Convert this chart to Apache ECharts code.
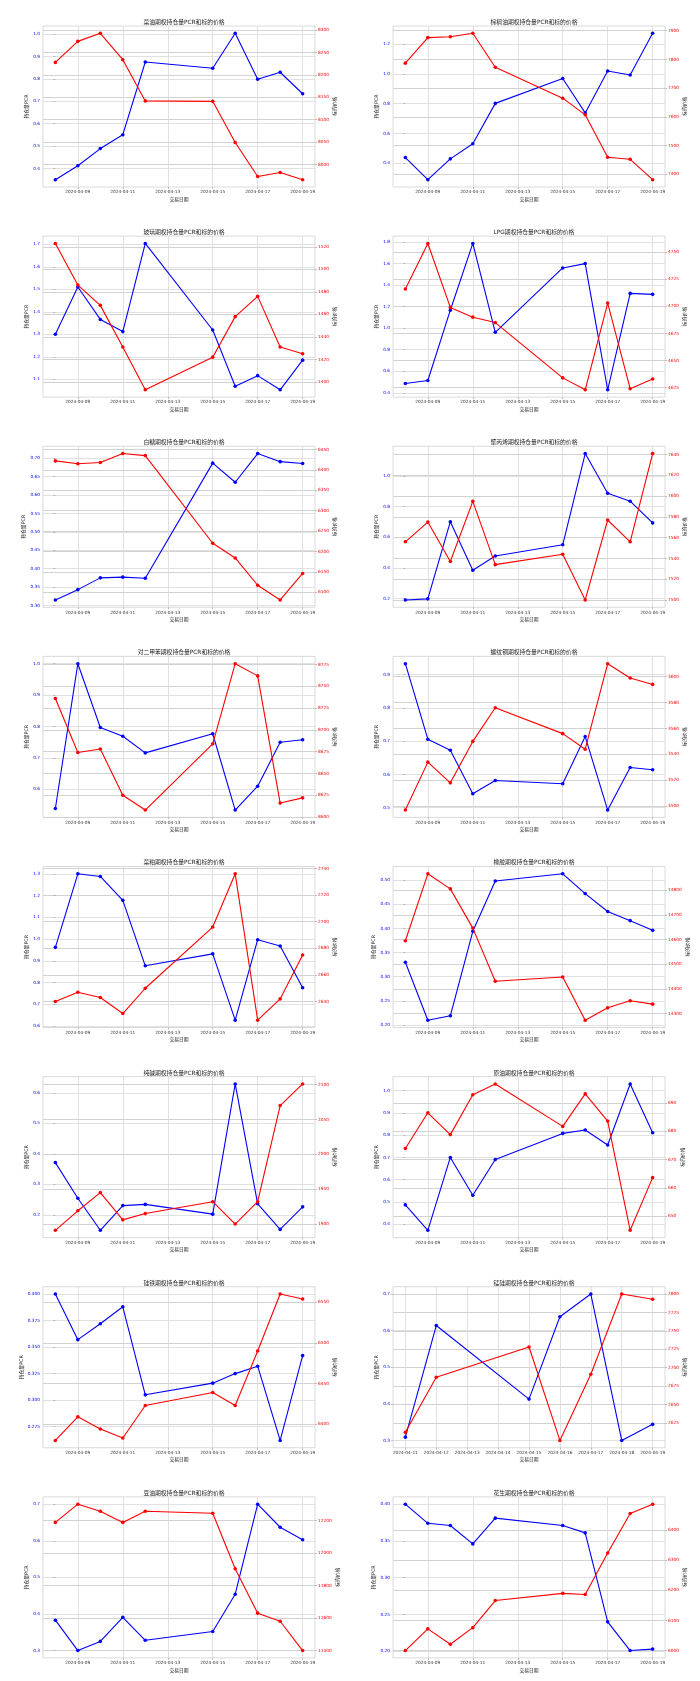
<!DOCTYPE html>
<html><head><meta charset="utf-8">
<script src="https://cdn.jsdelivr.net/npm/echarts@6/dist/echarts.min.js"></script>
<style>html,body{margin:0;padding:0;background:#fff}#c{width:700px;height:1681px}</style>
</head><body><div id="c"></div>
<script>
// ---------- data ----------
const titles = [
  '菜油期权持仓量PCR和标的价格','棕榈油期权持仓量PCR和标的价格',
  '玻璃期权持仓量PCR和标的价格','LPG期权持仓量PCR和标的价格',
  '白糖期权持仓量PCR和标的价格','聚丙烯期权持仓量PCR和标的价格',
  '对二甲苯期权持仓量PCR和标的价格','螺纹钢期权持仓量PCR和标的价格',
  '菜粕期权持仓量PCR和标的价格','橡胶期权持仓量PCR和标的价格',
  '纯碱期权持仓量PCR和标的价格','原油期权持仓量PCR和标的价格',
  '硅铁期权持仓量PCR和标的价格','锰硅期权持仓量PCR和标的价格',
  '豆油期权持仓量PCR和标的价格','花生期权持仓量PCR和标的价格'
];
const dates = ['2024-04-08','2024-04-09','2024-04-10','2024-04-11','2024-04-12','2024-04-15','2024-04-16','2024-04-17','2024-04-18','2024-04-19'];
const dates14 = ['2024-04-11','2024-04-12','2024-04-15','2024-04-16','2024-04-17','2024-04-18','2024-04-19'];
const xTicks = ['2024-04-09','2024-04-11','2024-04-13','2024-04-15','2024-04-17','2024-04-19'];
const xTicks14 = ['2024-04-11','2024-04-12','2024-04-13','2024-04-14','2024-04-15','2024-04-16','2024-04-17','2024-04-18','2024-04-19'];

const pcr1 = [0.350,0.412,0.489,0.551,0.876,0.848,1.004,0.799,0.830,0.734];
const price1 = [8228,8275,8293,8234,8142,8141,8049,7973,7982,7966];
const left1 = ['0.4','0.5','0.6','0.7','0.8','0.9','1.0'];
const right1 = ['8000','8050','8100','8150','8200','8250','8300'];

const pcr2 = [0.438,0.289,0.429,0.531,0.802,0.969,0.738,1.020,0.993,1.273];
const price2 = [7787,7876,7879,7891,7773,7665,7607,7459,7452,7381];
const left2 = ['0.4','0.6','0.8','1.0','1.2'];
const right2 = ['7400','7500','7600','7700','7800','7900'];

const pcr3 = [1.300,1.510,1.366,1.312,1.704,1.319,1.069,1.116,1.053,1.185];
const price3 = [1523,1486,1468,1431,1393,1422,1458,1476,1431,1425];
const left3 = ['1.1','1.2','1.3','1.4','1.5','1.6','1.7'];
const right3 = ['1400','1420','1440','1460','1480','1500','1520'];

const pcr4 = [0.486,0.514,1.166,1.785,0.961,1.558,1.598,0.428,1.322,1.313];
const price4 = [4716,4758,4699,4690,4685,4634,4623,4703,4624,4633];
const left4 = ['0.4','0.6','0.8','1.0','1.2','1.4','1.6','1.8'];
const right4 = ['4625','4650','4675','4700','4725','4750'];

const pcr5 = [0.315,0.343,0.375,0.377,0.374,0.687,0.635,0.713,0.691,0.686];
const price5 = [6422,6415,6418,6440,6435,6220,6184,6117,6081,6146];
const left5 = ['0.30','0.35','0.40','0.45','0.50','0.55','0.60','0.65','0.70'];
const right5 = ['6100','6150','6200','6250','6300','6350','6400','6450'];

const pcr6 = [0.191,0.198,0.702,0.385,0.478,0.551,1.147,0.888,0.836,0.694];
const price6 = [7556,7575,7537,7595,7534,7544,7500,7577,7556,7641];
const left6 = ['0.2','0.4','0.6','0.8','1.0'];
const right6 = ['7500','7520','7540','7560','7580','7600','7620','7640'];

const pcr7 = [0.539,1.000,0.797,0.769,0.716,0.777,0.534,0.610,0.750,0.758];
const price7 = [8736,8674,8678,8625,8608,8684,8776,8762,8616,8622];
const left7 = ['0.6','0.7','0.8','0.9','1.0'];
const right7 = ['8600','8625','8650','8675','8700','8725','8750','8775'];

const pcr8 = [0.933,0.706,0.673,0.542,0.582,0.572,0.714,0.493,0.621,0.614];
const price8 = [3497,3534,3518,3550,3576,3556,3544,3610,3599,3594];
const left8 = ['0.5','0.6','0.7','0.8','0.9'];
const right8 = ['3500','3520','3540','3560','3580','3600'];

const pcr9 = [0.962,1.300,1.288,1.178,0.877,0.932,0.627,0.997,0.968,0.776];
const price9 = [2640,2647,2643,2631,2650,2696,2736,2626,2642,2675];
const left9 = ['0.6','0.7','0.8','0.9','1.0','1.1','1.2','1.3'];
const right9 = ['2640','2660','2680','2700','2720','2740'];

const pcr10 = [0.330,0.210,0.219,0.394,0.498,0.513,0.472,0.435,0.416,0.396];
const price10 = [14595,14866,14805,14646,14431,14448,14273,14323,14352,14338];
const left10 = ['0.20','0.25','0.30','0.35','0.40','0.45','0.50'];
const right10 = ['14300','14400','14500','14600','14700','14800'];

const pcr11 = [0.371,0.254,0.149,0.230,0.234,0.202,0.629,0.236,0.152,0.226];
const price11 = [1891,1919,1945,1906,1915,1932,1900,1932,2070,2101];
const left11 = ['0.2','0.3','0.4','0.5','0.6'];
const right11 = ['1900','1950','2000','2050','2100'];

const pcr12 = [0.487,0.373,0.700,0.530,0.691,0.808,0.823,0.756,1.030,0.811];
const price12 = [673.9,686.5,678.8,692.9,696.7,681.7,693.2,683.6,645.0,663.6];
const left12 = ['0.4','0.5','0.6','0.7','0.8','0.9','1.0'];
const right12 = ['650','660','670','680','690'];

const pcr13 = [0.400,0.357,0.372,0.388,0.305,0.316,0.325,0.332,0.262,0.342];
const price13 = [6380,6409,6394,6383,6423,6439,6423,6490,6560,6554];
const left13 = ['0.275','0.300','0.325','0.350','0.375','0.400'];
const right13 = ['6400','6450','6500','6550'];

const pcr14 = [0.309,0.614,0.413,0.638,0.700,0.300,0.344];
const price14 = [2612,2687,2728,2601,2691,2800,2793];
const left14 = ['0.3','0.4','0.5','0.6','0.7'];
const right14 = ['2625','2650','2675','2700','2725','2750','2775','2800'];

const pcr15 = [0.383,0.300,0.325,0.391,0.328,0.352,0.454,0.700,0.637,0.603];
const price15 = [12188,12300,12257,12188,12257,12244,11903,11630,11580,11400];
const left15 = ['0.3','0.4','0.5','0.6','0.7'];
const right15 = ['11400','11600','11800','12000','12200'];

const pcr16 = [0.400,0.374,0.371,0.346,0.381,0.371,0.361,0.240,0.201,0.203];
const price16 = [6000,6072,6021,6076,6166,6190,6186,6324,6455,6486];
const left16 = ['0.20','0.25','0.30','0.35','0.40'];
const right16 = ['6000','6100','6200','6300','6400'];

const panels = [
  {d:dates,x:xTicks,p:pcr1,v:price1,l:left1,r:right1},
  {d:dates,x:xTicks,p:pcr2,v:price2,l:left2,r:right2},
  {d:dates,x:xTicks,p:pcr3,v:price3,l:left3,r:right3},
  {d:dates,x:xTicks,p:pcr4,v:price4,l:left4,r:right4},
  {d:dates,x:xTicks,p:pcr5,v:price5,l:left5,r:right5},
  {d:dates,x:xTicks,p:pcr6,v:price6,l:left6,r:right6},
  {d:dates,x:xTicks,p:pcr7,v:price7,l:left7,r:right7},
  {d:dates,x:xTicks,p:pcr8,v:price8,l:left8,r:right8},
  {d:dates,x:xTicks,p:pcr9,v:price9,l:left9,r:right9},
  {d:dates,x:xTicks,p:pcr10,v:price10,l:left10,r:right10},
  {d:dates,x:xTicks,p:pcr11,v:price11,l:left11,r:right11},
  {d:dates,x:xTicks,p:pcr12,v:price12,l:left12,r:right12},
  {d:dates,x:xTicks,p:pcr13,v:price13,l:left13,r:right13},
  {d:dates14,x:xTicks14,p:pcr14,v:price14,l:left14,r:right14},
  {d:dates,x:xTicks,p:pcr15,v:price15,l:left15,r:right15},
  {d:dates,x:xTicks,p:pcr16,v:price16,l:left16,r:right16}
];

// ---------- build ----------
const BASE = Date.UTC(2024,3,8);
function dn(s){const a=s.split('-').map(Number);return Math.round((Date.UTC(a[0],a[1]-1,a[2])-BASE)/864e5);}
function ds(n){return new Date(BASE+Math.round(n)*864e5).toISOString().slice(0,10);}
function pad(arr){const mn=Math.min(...arr),mx=Math.max(...arr),s=mx-mn;return [mn-0.05*s,mx+0.05*s];}
function lab(list){return v=>{let b=list[0],bd=1e18;list.forEach(t=>{const d=Math.abs(Number(t)-v);if(d<bd){bd=d;b=t;}});return b;};}

const FONT = 'DejaVu Sans, "Noto Sans CJK SC", sans-serif';
const PW=350, PH=1681/8, GL=43, GT=26, GW=272, GH=161;
const grid=[],xAxis=[],yAxis=[],series=[],title=[];
const gridCol='#d9d9d9';

panels.forEach((P,i)=>{
  const r=Math.floor(i/2), c=i%2;
  const ox=c*PW, oy=r*PH;
  grid.push({left:ox+GL,top:oy+GT,width:GW,height:GH,show:true,borderColor:'#d0d0d0',borderWidth:0.8,backgroundColor:'#fff'});
  title.push({text:titles[i],left:ox+GL+GW/2,top:oy+14.5,textAlign:'center',
    textStyle:{fontSize:5.8,fontWeight:'normal',color:'#222',fontFamily:FONT}});
  const xs=P.d.map(dn);
  const xr=pad(xs);
  const xc=P.x.map(dn);
  xAxis.push({type:'value',gridIndex:i,min:xr[0],max:xr[1],
    axisLine:{show:false},
    axisTick:{show:true,length:2,customValues:xc,lineStyle:{color:'#999',width:0.6}},
    axisLabel:{customValues:xc,formatter:v=>ds(v),fontSize:4.3,color:'#333',margin:3,fontFamily:FONT},
    splitLine:{show:true,lineStyle:{color:gridCol,width:0.8}},
    name:'交易日期',nameLocation:'middle',nameGap:10,
    nameTextStyle:{fontSize:4.8,color:'#222',fontFamily:FONT}});
  const lr=pad(P.p), rr=pad(P.v);
  const lv=P.l.map(Number), rv=P.r.map(Number);
  yAxis.push({type:'value',gridIndex:i,position:'left',min:lr[0],max:lr[1],
    axisLine:{show:false},
    axisTick:{show:true,length:2,customValues:lv,lineStyle:{color:'#999',width:0.6}},
    axisLabel:{customValues:lv,formatter:lab(P.l),fontSize:4.3,color:'#0000ff',margin:3,fontFamily:FONT},
    splitLine:{show:true,lineStyle:{color:gridCol,width:0.8}},
    name:'持仓量PCR',nameLocation:'middle',nameRotate:90,nameGap:8.5,
    nameTextStyle:{fontSize:4.8,color:'#222',fontFamily:FONT}});
  yAxis.push({type:'value',gridIndex:i,position:'right',min:rr[0],max:rr[1],
    axisLine:{show:false},
    axisTick:{show:true,length:2,customValues:rv,lineStyle:{color:'#999',width:0.6}},
    axisLabel:{customValues:rv,formatter:lab(P.r),fontSize:4.3,color:'#ff0000',margin:3,fontFamily:FONT},
    splitLine:{show:true,lineStyle:{color:'#d2d2d2',width:1}},
    name:'标的价格',nameLocation:'middle',nameRotate:90,nameGap:15,
    nameTextStyle:{fontSize:4.8,color:'#222',fontFamily:FONT}});
  series.push({type:'line',xAxisIndex:i,yAxisIndex:2*i,data:xs.map((x,k)=>[x,P.p[k]]),
    symbol:'circle',symbolSize:3.6,showSymbol:true,lineStyle:{color:'#0000ff',width:1.1},itemStyle:{color:'#0000ff'},z:2});
  series.push({type:'line',xAxisIndex:i,yAxisIndex:2*i+1,data:xs.map((x,k)=>[x,P.v[k]]),
    symbol:'circle',symbolSize:3.6,showSymbol:true,lineStyle:{color:'#ff0000',width:1.1},itemStyle:{color:'#ff0000'},z:3});
});

const chart = echarts.init(document.getElementById('c'),null,{renderer:'canvas'});
chart.setOption({animation:false,backgroundColor:'#fff',title,grid,xAxis,yAxis,series});
</script></body></html>
